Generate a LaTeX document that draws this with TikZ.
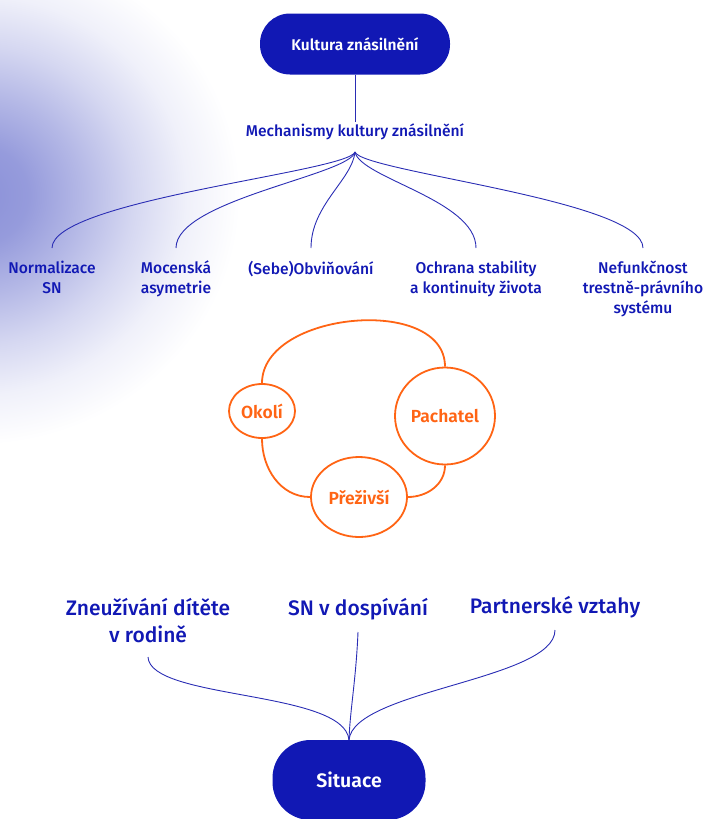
\documentclass[tikz,border=0pt]{standalone}
\usepackage{fontspec}
\setmainfont{Fira Sans Medium}[BoldFont={Fira Sans SemiBold}]
\usetikzlibrary{shapes.geometric}
\definecolor{modra}{HTML}{1118B4}
\definecolor{linka}{HTML}{2A2DB4}
\definecolor{oranzova}{HTML}{FF6414}
\definecolor{mlha}{HTML}{8A90D8}
\pgfdeclareradialshading{mlhavka}{\pgfpoint{0bp}{0bp}}{color(0bp)=(mlha); color(5bp)=(mlha!90!white); color(10bp)=(mlha!64!white); color(15bp)=(mlha!36!white); color(20bp)=(mlha!13!white); color(25bp)=(white); color(50bp)=(white)}
\begin{document}
\begin{tikzpicture}[x=1pt,y=-1pt]
	\tikzstyle{ovalek}=[fill=modra,text=white,font=\bfseries\fontsize{15.5}{18}\selectfont,rounded corners=30pt,minimum height=61pt]
	\tikzstyle{popisek}=[text=modra,font=\fontsize{15.6}{20}\selectfont,align=center,inner sep=2pt]
	\tikzstyle{situace}=[text=modra,font=\fontsize{21}{27}\selectfont,align=center,inner sep=2pt]
	\tikzstyle{spoj}=[draw=linka,line width=0.9pt]
	\tikzstyle{kolo}=[draw=oranzova,line width=1.8pt,ellipse,text=oranzova,font=\bfseries\fontsize{17.5}{20}\selectfont,inner sep=0pt]
	\tikzstyle{oblouk}=[draw=oranzova,line width=1.8pt]

	% pozadi
	\useasboundingbox (0,0) rectangle (703,819);
	\begin{scope}
		\clip (0,0) rectangle (703,819);
		\shade[shading=mlhavka] (-25,195) ellipse [x radius=265, y radius=250];
	\end{scope}

	% horni cast
	\node[ovalek,minimum width=190pt] (kultura) at (355,44) {Kultura znásilnění};
	\node[popisek] (mech) at (355,132) {Mechanismy kultury znásilnění};
	\coordinate (vejir) at (355,152);
	\draw[spoj] (kultura.south) -- (mech.north);

	\node[popisek,anchor=north,inner ysep=9pt,outer ysep=4pt] (norm) at (52,248) {Normalizace\\SN};
	\node[popisek,anchor=north,inner ysep=9pt,outer ysep=4pt] (moc) at (176,248) {Mocenská\\asymetrie};
	\node[popisek,anchor=north,inner ysep=9pt,outer ysep=4pt] (obv) at (311,248) {(Sebe)Obviňování};
	\node[popisek,anchor=north,inner ysep=9pt,outer ysep=4pt] (ochr) at (476,248) {Ochrana stability\\a kontinuity života};
	\node[popisek,anchor=north,inner ysep=9pt,outer ysep=4pt] (nef) at (643,248) {Nefunkčnost\\trestně-právního\\systému};

	\draw[spoj] (vejir) .. controls (348,172) and (52,200) .. (norm.north);
	\draw[spoj] (vejir) .. controls (350,175) and (176,200) .. (moc.north);
	\draw[spoj] (vejir) .. controls (352,180) and (311,205) .. (obv.north);
	\draw[spoj] (vejir) .. controls (360,178) and (476,200) .. (ochr.north);
	\draw[spoj] (vejir) .. controls (362,172) and (643,200) .. (nef.north);

	% kruh akteru
	\node[kolo,minimum width=66pt,minimum height=54pt] (okoli) at (262,411) {Okolí};
	\node[kolo,minimum width=100pt,minimum height=97pt] (pachatel) at (445,416) {Pachatel};
	\node[kolo,minimum width=96pt,minimum height=80pt] (prezivsi) at (359,497) {Přeživší};

	\draw[oblouk] (okoli.north) to[out=90,in=90] (pachatel.north);
	\draw[oblouk] (okoli.south) to[out=-90,in=180] (prezivsi.west);
	\draw[oblouk] (pachatel.south) to[out=-90,in=0] (prezivsi.east);

	% spodni cast
	\node[situace,anchor=south,inner ysep=14pt] (dite) at (148,657) {Zneužívání dítěte\\v rodině};
	\node[situace,anchor=south,inner ysep=12pt] (dosp) at (358,632) {SN v dospívání};
	\node[situace,anchor=south,inner ysep=12pt] (partner) at (555,630) {Partnerské vztahy};
	\node[ovalek,font=\bfseries\fontsize{19.5}{22}\selectfont,minimum width=153pt,minimum height=80pt,rounded corners=38pt] (sit) at (349,780) {Situace};

	\draw[spoj] (dite.south) .. controls (150,700) and (344,690) .. (sit.north);
	\draw[spoj] (dosp.south) .. controls (356,680) and (350,710) .. (sit.north);
	\draw[spoj] (partner.south) .. controls (555,680) and (354,690) .. (sit.north);
\end{tikzpicture}
\end{document}
